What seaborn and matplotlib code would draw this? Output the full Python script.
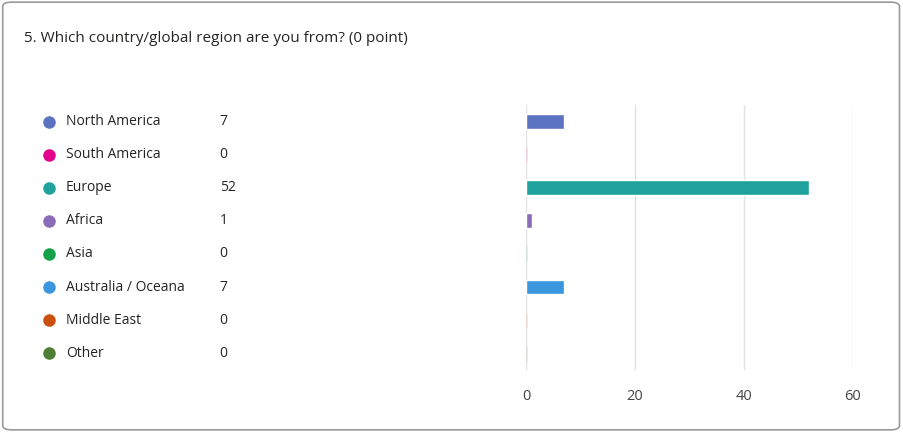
import matplotlib
matplotlib.use("Agg")
import matplotlib.pyplot as plt
import matplotlib.transforms as mtransforms
from matplotlib.patches import FancyBboxPatch
import seaborn as sns
import pandas as pd

regions = ["North America", "South America", "Europe", "Africa", "Asia",
           "Australia / Oceana", "Middle East", "Other"]
counts = [7, 0, 52, 1, 0, 7, 0, 0]
colors = ["#5b73c0", "#e3008c", "#1fa29e", "#8a6bb8", "#13a24a",
          "#3a96dd", "#ca5010", "#4f7f35"]
title = "5. Which country/global region are you from? (0 point)"

sns.set_style("white")
plt.rcParams['font.family'] = ['Open Sans', 'DejaVu Sans']

fig = plt.figure(figsize=(9.04, 4.32), dpi=100)
fig.patches.append(FancyBboxPatch((0.003, 0.005), 0.992, 0.99, boxstyle="round,pad=0,rounding_size=0.01",
                                  transform=fig.transFigure, fc="white", ec="#9a9a9a", lw=1.2,
                                  zorder=-10))
fig.text(0.026, 0.91, title, fontsize=11, color="#252423", va="center")

ax = fig.add_axes([0.582, 0.144, 0.3615, 0.613])
ax.patch.set_alpha(0)
df = pd.DataFrame({"region": regions, "count": counts})
# zero answers still get a faint sliver, like the original
df["shown"] = df["count"].clip(lower=0.25)
sns.barplot(data=df, y="region", x="shown", hue="region", palette=colors,
            legend=False, orient="h", width=0.45, ax=ax, saturation=1)
for bar, c in zip(ax.patches, counts):
    bar.set_alpha(1 if c > 0 else 0.35)
ax.set_xlim(0, 60)
ax.set_ylim(7.5, -0.5)
ax.set_xticks([0, 20, 40, 60])
ax.xaxis.grid(True, color="#e1e1e1", lw=1)
ax.set_axisbelow(True)
ax.set_yticks([])
ax.set_xlabel("")
ax.set_ylabel("")
sns.despine(ax=ax, left=True, bottom=True)
ax.tick_params(axis="x", length=0, labelsize=10.5, colors="#444444", pad=14)

tr = mtransforms.blended_transform_factory(fig.transFigure, ax.transData)
for i, (r, c, col) in enumerate(zip(regions, counts, colors)):
    fig.lines.append(plt.Line2D([0.054], [i], transform=tr, marker="o", markersize=8,
                                color=col, linestyle="none"))
    fig.text(0.073, i, r, transform=tr, fontsize=10, color="#252423", va="center")
    fig.text(0.243, i, str(c), transform=tr, fontsize=10, color="#252423", va="center")

fig.savefig("out.png", dpi=100)
